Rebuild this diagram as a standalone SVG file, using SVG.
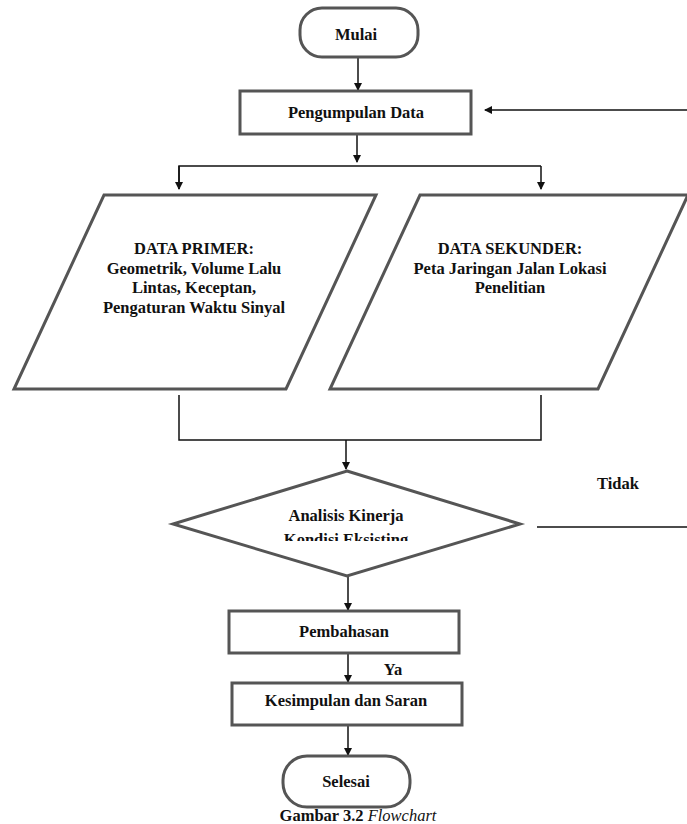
<svg xmlns="http://www.w3.org/2000/svg" width="687" height="824" viewBox="0 0 687 824" font-family="'Liberation Serif', 'Times New Roman', 'DejaVu Serif', serif">
<style>
.shape{fill:#fff;stroke:#555;stroke-width:3}
.conn{fill:none;stroke:#111;stroke-width:1.5}
.t{font-family:'Liberation Serif','Times New Roman','DejaVu Serif',serif;font-size:16.5px;font-weight:bold;fill:#111;text-anchor:middle}
.it{font-style:italic;font-weight:normal}
</style>
<defs>
<marker id="ah" markerWidth="8" markerHeight="8" refX="7" refY="4" orient="auto" markerUnits="userSpaceOnUse">
<path d="M0,0 L8,4 L0,8 Z" fill="#111"/>
</marker>
<clipPath id="clipK"><rect x="170" y="525" width="360" height="16"/></clipPath>
</defs>
<rect width="687" height="824" fill="#fff"/>
<g id="connectors">
<line class="conn" x1="358" y1="57" x2="358" y2="90" marker-end="url(#ah)"/>
<line class="conn" x1="687" y1="110" x2="485" y2="110" marker-end="url(#ah)"/>
<line class="conn" x1="357" y1="134" x2="357" y2="162" marker-end="url(#ah)"/>
<polyline class="conn" points="179,189 179,166 541,166"/>
<line class="conn" x1="179" y1="166" x2="179" y2="189" marker-end="url(#ah)"/>
<line class="conn" x1="541" y1="166" x2="541" y2="189" marker-end="url(#ah)"/>
<polyline class="conn" points="179,395 179,440 541,440 541,395"/>
<line class="conn" x1="346" y1="440" x2="346" y2="469" marker-end="url(#ah)"/>
<line class="conn" x1="537" y1="527" x2="687" y2="527"/>
<line class="conn" x1="348" y1="576" x2="348" y2="610" marker-end="url(#ah)"/>
<line class="conn" x1="348" y1="653" x2="348" y2="682" marker-end="url(#ah)"/>
<line class="conn" x1="348" y1="725" x2="348" y2="755" marker-end="url(#ah)"/>
</g>
<g id="mulai">
<rect class="shape" x="300" y="8" width="118" height="49" rx="22"/>
<text class="t" x="356" y="40">Mulai</text>
</g>
<g id="pengumpulan">
<rect class="shape" x="240" y="91" width="231" height="43"/>
<text class="t" x="356" y="118">Pengumpulan Data</text>
</g>
<g id="primer">
<polygon class="shape" points="104,195 376,195 286,389 14,389"/>
<text class="t" x="194" y="254">DATA PRIMER:</text>
<text class="t" x="194" y="274">Geometrik, Volume Lalu</text>
<text class="t" x="194" y="293">Lintas, Keceptan,</text>
<text class="t" x="194" y="313">Pengaturan Waktu Sinyal</text>
</g>
<g id="sekunder">
<polygon class="shape" points="420,195 688,195 598,389 330,389"/>
<text class="t" x="510" y="254">DATA SEKUNDER:</text>
<text class="t" x="510" y="274">Peta Jaringan Jalan Lokasi</text>
<text class="t" x="510" y="293">Penelitian</text>
</g>
<g id="analisis">
<polygon class="shape" points="347,471 520,524 347,576 173,524"/>
<text class="t" x="346" y="521">Analisis Kinerja</text>
<text class="t" x="346" y="545" clip-path="url(#clipK)">Kondisi Eksisting</text>
</g>
<g id="tidak"><text class="t" x="618" y="489">Tidak</text></g>
<g id="pembahasan">
<rect class="shape" x="229" y="611" width="230" height="42"/>
<text class="t" x="344" y="637">Pembahasan</text>
</g>
<g id="ya"><text class="t" x="393" y="675">Ya</text></g>
<g id="kesimpulan">
<rect class="shape" x="232" y="683" width="230" height="42"/>
<text class="t" x="346" y="706">Kesimpulan dan Saran</text>
</g>
<g id="selesai">
<rect class="shape" x="283" y="756" width="127" height="51" rx="24"/>
<text class="t" x="346" y="787">Selesai</text>
</g>
<g id="caption">
<text class="t" x="358" y="821">Gambar 3.2 <tspan class="it">Flowchart</tspan></text>
</g>
</svg>
